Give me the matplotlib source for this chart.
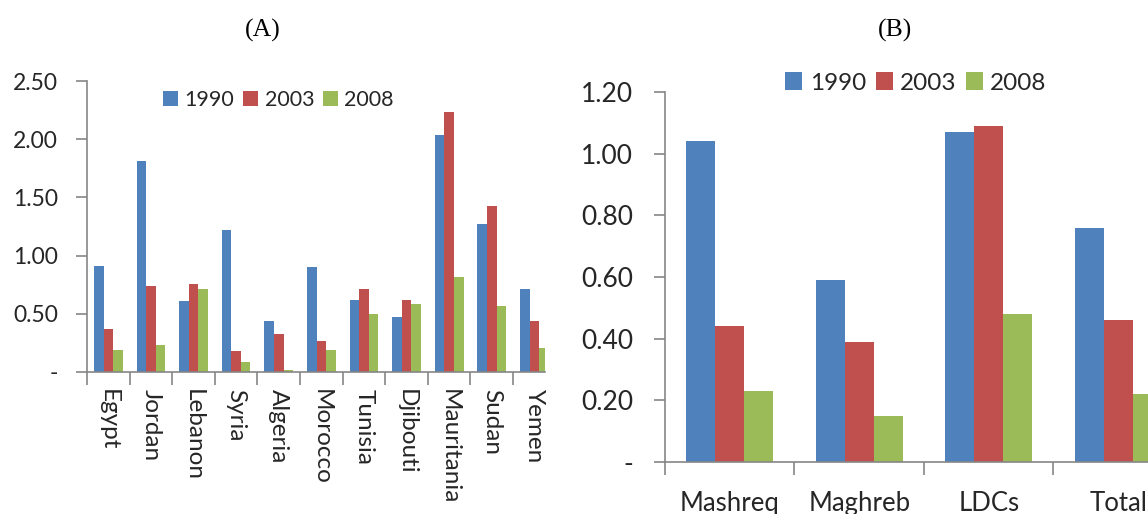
import numpy as np
import matplotlib
matplotlib.use('Agg')
import matplotlib.pyplot as plt
from matplotlib.ticker import FuncFormatter, FixedLocator

# Data
countries = ['Egypt', 'Jordan', 'Lebanon', 'Syria', 'Algeria', 'Morocco',
             'Tunisia', 'Djibouti', 'Mauritania', 'Sudan', 'Yemen']
a_1990 = [0.91, 1.81, 0.61, 1.22, 0.44, 0.90, 0.62, 0.47, 2.04, 1.27, 0.71]
a_2003 = [0.37, 0.74, 0.76, 0.18, 0.33, 0.27, 0.71, 0.62, 2.23, 1.43, 0.44]
a_2008 = [0.19, 0.23, 0.71, 0.09, 0.02, 0.19, 0.50, 0.58, 0.82, 0.57, 0.21]

regions = ['Mashreq', 'Maghreb', 'LDCs', 'Total']
b_1990 = [1.04, 0.59, 1.07, 0.76]
b_2003 = [0.44, 0.39, 1.09, 0.46]
b_2008 = [0.23, 0.15, 0.48, 0.22]

years = ['1990', '2003', '2008']
colors = ['#4F81BD', '#C0504D', '#9BBB59']

plt.rcParams['font.family'] = ['Lato', 'DejaVu Sans']
text_color = '#262626'
axis_color = '#868686'

fig = plt.figure(figsize=(11.48, 5.14), dpi=100)


def fmt(v, pos):
    return '-' if abs(v) < 1e-9 else f'{v:.2f}'


def style_axes(ax, n, ymax, ystep, ysize, ypad, label_size, label_pad):
    for s in ['top', 'right']:
        ax.spines[s].set_visible(False)
    for s in ['left', 'bottom']:
        ax.spines[s].set_color(axis_color)
        ax.spines[s].set_linewidth(1.2)
    ax.set_ylim(0, ymax)
    ax.set_yticks(np.arange(0, ymax + ystep / 2, ystep))
    ax.yaxis.set_major_formatter(FuncFormatter(fmt))
    ax.tick_params(axis='y', length=8, width=1.2, color=axis_color,
                   labelsize=ysize, labelcolor=text_color, pad=ypad)
    # category boundaries carry the tick marks, centres carry the labels
    ax.xaxis.set_major_locator(FixedLocator(np.arange(n + 1) - 0.5))
    ax.xaxis.set_minor_locator(FixedLocator(np.arange(n)))
    ax.tick_params(axis='x', which='major', length=9, width=1.2,
                   color=axis_color, labelbottom=False)
    ax.tick_params(axis='x', which='minor', length=0, labelsize=label_size,
                   labelcolor=text_color, pad=label_pad)


# Panel A
axA = fig.add_axes([87 / 1148, 1 - 372 / 514, (545 - 87) / 1148, (372 - 81) / 514])
x = np.arange(len(countries))
w = 0.225
for k, vals in enumerate([a_1990, a_2003, a_2008]):
    axA.bar(x + (k - 1) * w, vals, w, color=colors[k], label=years[k])
axA.set_xlim(-0.5, 10.25)
style_axes(axA, len(countries), 2.5, 0.5, 16.5, 13, 17.5, 12)
axA.set_xticks(x, countries, minor=True, rotation=-90, va='top')
axA.legend(loc='center', bbox_to_anchor=(278.5 / 1148, 1 - 100 / 514),
           bbox_transform=fig.transFigure, ncol=3, frameon=False,
           fontsize=15.5, handlelength=0.7, handleheight=0.7,
           handletextpad=0.3, columnspacing=0.4, labelcolor=text_color)

# Panel B
axB = fig.add_axes([665 / 1148, 1 - 462 / 514, (1148 - 665) / 1148, (462 - 92) / 514])
x = np.arange(len(regions))
for k, vals in enumerate([b_1990, b_2003, b_2008]):
    axB.bar(x + (k - 1) * w, vals, w, color=colors[k], label=years[k])
axB.set_xlim(-0.5, 3.23)
style_axes(axB, len(regions), 1.2, 0.2, 19, 15, 18.5, 21)
axB.set_xticks(x, regions, minor=True)
axB.legend(loc='center', bbox_to_anchor=(916 / 1148, 1 - 83 / 514),
           bbox_transform=fig.transFigure, ncol=3, frameon=False,
           fontsize=17.5, handlelength=0.7, handleheight=0.7,
           handletextpad=0.3, columnspacing=0.4, labelcolor=text_color)

fig.text(263 / 1148, 1 - 30 / 514, '(A)', ha='center', va='center',
         fontsize=18.5, family='Liberation Serif')
fig.text(895 / 1148, 1 - 30 / 514, '(B)', ha='center', va='center',
         fontsize=18.5, family='Liberation Serif')

fig.savefig('out.png', dpi=100)
